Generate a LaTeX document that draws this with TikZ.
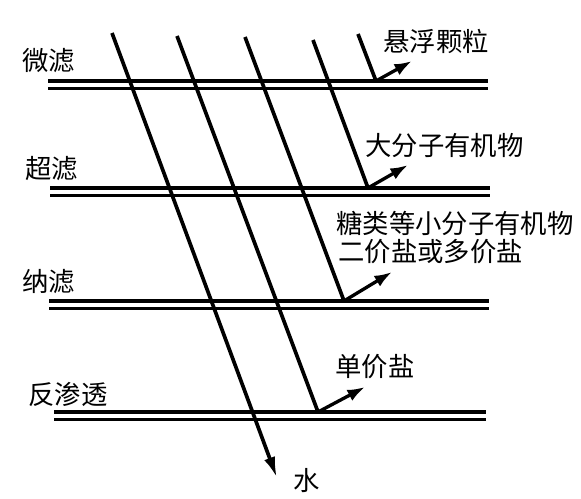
\documentclass[tikz,border=0pt]{standalone}
\usepackage{fontspec}
\setmainfont{Noto Sans CJK SC}
\usetikzlibrary{arrows.meta}

\begin{document}
\begin{tikzpicture}[x=0.02cm,y=-0.02cm,
    membrane/.style={line width=1.8pt},
    flow/.style={line width=2.1pt},
    reject/.style={line width=1.9pt,-{Latex[length=10pt,width=7pt]}},
    lbl/.style={font=\fontsize{15}{18}\selectfont,anchor=west,inner sep=0pt}]
  \useasboundingbox (0,0) rectangle (581,499);

  % membranes, one double line each
  \foreach \y/\xa/\xb in {81/48/488, 188/50/490, 301/49/489, 412/54/486}{
    \draw[membrane] (\xa,\y) -- (\xb,\y);
    \draw[membrane] (\xa,\y+7.5) -- (\xb,\y+7.5);
  }
  \node[lbl] (mf) at (22,61) {微滤};
  \node[lbl] (uf) at (25,169) {超滤};
  \node[lbl] (nf) at (22,282) {纳滤};
  \node[lbl] (ro) at (28,394) {反渗透};

  % what is held back
  \node[lbl] (susp) at (383,41) {悬浮颗粒};
  \node[lbl] (macro) at (365,146) {大分子有机物};
  \node[lbl] (sugar) at (336,223) {糖类等小分子有机物};
  \node[lbl] (divalent) at (338,252) {二价盐或多价盐};
  \node[lbl] (mono) at (335,367) {单价盐};
  \node[lbl] (water) at (293,481) {水};

  % streams
  \coordinate (w0) at (112,33);   \coordinate (w1) at (277,478);
  \coordinate (s0) at (177,36);   \coordinate (s1) at (318,412);
  \coordinate (d0) at (245,37);   \coordinate (d1) at (344,301);
  \coordinate (m0) at (313,40);   \coordinate (m1) at (368,188);
  \coordinate (p0) at (358,34);   \coordinate (p1) at (376,81);

  \draw[flow,-{Latex[length=12pt,width=6.5pt]}] (w0) -- (w1);
  \draw[flow] (s0) -- (s1);
  \draw[flow] (d0) -- (d1);
  \draw[flow] (m0) -- (m1);
  \draw[flow] (p0) -- (p1);

  \draw[reject] (s1) -- ++(47,-25);
  \draw[reject] (d1) -- ++(48,-29);
  \draw[reject] (m1) -- ++(40,-23);
  \draw[reject] (p1) -- ++(36,-20);
\end{tikzpicture}
\end{document}
